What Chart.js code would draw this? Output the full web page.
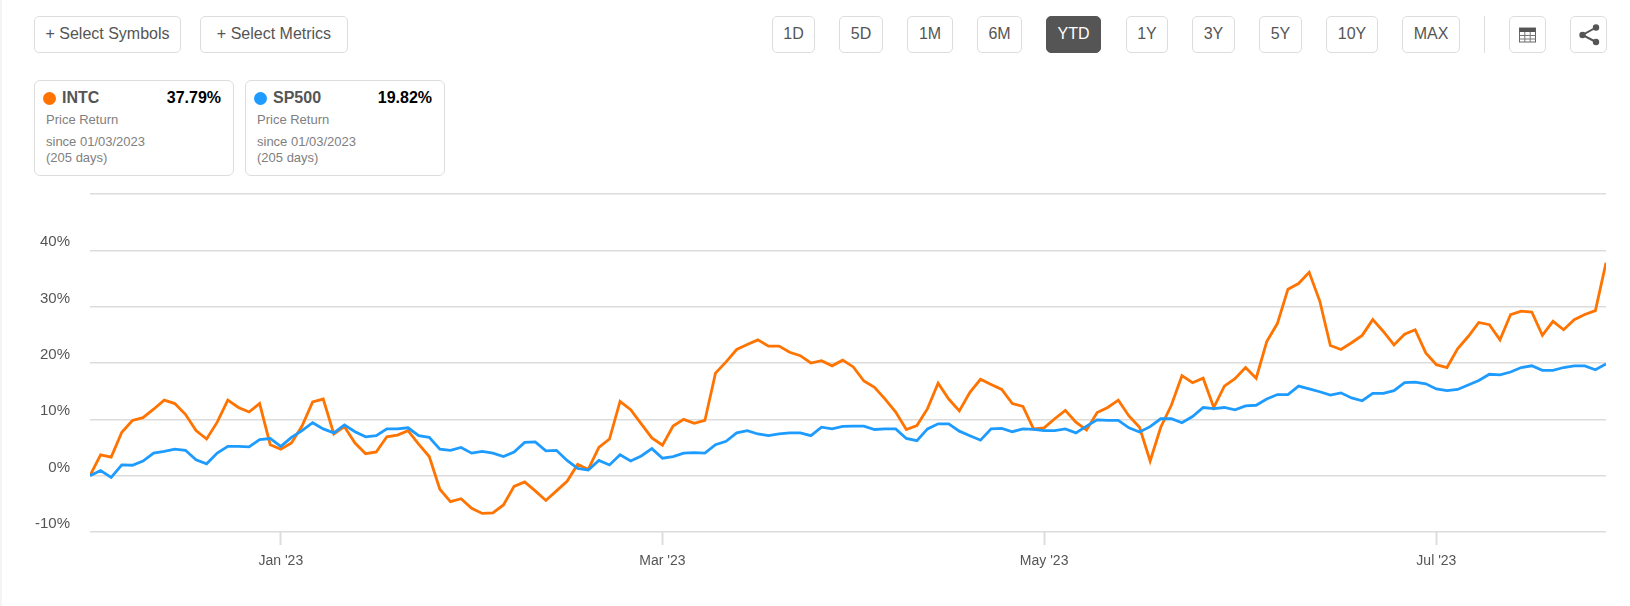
<!DOCTYPE html>
<html>
<head>
<meta charset="utf-8">
<title>INTC vs SP500</title>
<script src="https://cdn.jsdelivr.net/npm/chart.js@4/dist/chart.umd.min.js"></script>
<style>
  html, body { margin: 0; padding: 0; background: #fff; width: 1630px; height: 606px; overflow: hidden; }
  body { font-family: "Liberation Sans", Arial, sans-serif; color: #555; position: relative; }
  .edge { position: absolute; left: 0; top: 0; width: 2px; height: 606px; background: #f7f3f3; }
  .btn { position: absolute; top: 16px; height: 35px; line-height: 33px; border: 1px solid #ddd; border-radius: 5px;
         text-align: center; font-size: 16px; color: #555; background: #fff; }
  .btn.on { background: #555; border-color: #555; color: #fff; }
  .sep { position: absolute; left: 1484px; top: 16px; width: 1px; height: 37px; background: #ddd; }
  .card { position: absolute; top: 80px; width: 198px; height: 94px; border: 1px solid #ddd; border-radius: 6px; }
  .dot { position: absolute; left: 8px; top: 11px; width: 13px; height: 13px; border-radius: 50%; }
  .name { position: absolute; left: 27px; top: 8px; font-size: 16px; font-weight: bold; line-height: 18px; }
  .pct { position: absolute; right: 12px; top: 8px; font-size: 16px; font-weight: bold; line-height: 18px; color: #000; }
  .sub { position: absolute; left: 11px; font-size: 13px; line-height: 16px; color: #808080; }
  #wrap { position: absolute; left: 0; top: 165px; width: 1630px; height: 435px; }
  .btn svg { position: absolute; left: 0; top: 0; }
</style>
</head>
<body>
<div class="edge"></div>
<div class="btn" style="left:34px;width:145px">+ Select Symbols</div>
<div class="btn" style="left:200px;width:146px">+ Select Metrics</div>

<div class="btn" style="left:772px;width:41px">1D</div>
<div class="btn" style="left:839px;width:42px">5D</div>
<div class="btn" style="left:907px;width:44px">1M</div>
<div class="btn" style="left:977px;width:43px">6M</div>
<div class="btn on" style="left:1046px;width:53px">YTD</div>
<div class="btn" style="left:1126px;width:40px">1Y</div>
<div class="btn" style="left:1192px;width:41px">3Y</div>
<div class="btn" style="left:1259px;width:41px">5Y</div>
<div class="btn" style="left:1326px;width:50px">10Y</div>
<div class="btn" style="left:1402px;width:56px">MAX</div>
<div class="sep"></div>
<div class="btn" style="left:1509px;width:35px">
  <svg width="35" height="35" viewBox="0 0 35 35">
    <rect x="9.5" y="11" width="16" height="14" fill="#fff" stroke="#666" stroke-width="1"/>
    <rect x="9.5" y="11" width="16" height="4" fill="#555"/>
    <path d="M9.5 18.5H25.5M9.5 22H25.5M14.8 15V25M20.2 15V25" stroke="#777" stroke-width="1"/>
  </svg>
</div>
<div class="btn" style="left:1570px;width:35px">
  <svg width="35" height="35" viewBox="0 0 35 35">
    <path d="M25 10.5L11.5 18L25 25" fill="none" stroke="#555" stroke-width="2"/>
    <circle cx="25" cy="10.5" r="3.2" fill="#555"/><circle cx="11.5" cy="18" r="3.2" fill="#555"/><circle cx="25" cy="25" r="3.2" fill="#555"/>
  </svg>
</div>

<div class="card" style="left:34px">
  <span class="dot" style="background:#ff7300"></span>
  <span class="name">INTC</span><span class="pct">37.79%</span>
  <div class="sub" style="top:31px">Price Return</div>
  <div class="sub" style="top:53px">since 01/03/2023</div>
  <div class="sub" style="top:69px">(205 days)</div>
</div>
<div class="card" style="left:245px">
  <span class="dot" style="background:#1e9bff"></span>
  <span class="name">SP500</span><span class="pct">19.82%</span>
  <div class="sub" style="top:31px">Price Return</div>
  <div class="sub" style="top:53px">since 01/03/2023</div>
  <div class="sub" style="top:69px">(205 days)</div>
</div>

<div id="wrap"><canvas id="chart"></canvas></div>

<script>
// values, one per trading day
const intc = [
  0, 3.7, 3.3, 7.7, 9.8, 10.3, 11.8, 13.4, 12.8, 10.9, 8.0, 6.5,
  9.5, 13.4, 12.1, 11.3, 12.8, 5.5, 4.7, 5.8, 8.8, 13.1, 13.6, 7.4,
  8.7, 5.8, 3.9, 4.2, 6.9, 7.2, 8.0, 5.6, 3.4, -2.4, -4.6, -4.1,
  -5.8, -6.7, -6.6, -5.2, -1.9, -1.1, -2.7, -4.4, -2.7, -1.0, 2.0, 1.1,
  5.0, 6.5, 13.2, 11.7, 9.2, 6.7, 5.4, 8.8, 10.0, 9.3, 9.8, 18.2,
  20.2, 22.4, 23.3, 24.1, 23.0, 23.0, 21.9, 21.3, 20.0, 20.4, 19.5, 20.5,
  19.3, 16.8, 15.7, 13.6, 11.3, 8.2, 8.9, 11.9, 16.4, 13.6, 11.5, 14.8,
  17.1, 16.2, 15.3, 12.8, 12.3, 8.3, 8.5, 10.1, 11.6, 9.5, 8.1, 11.2,
  12.1, 13.4, 10.6, 8.6, 2.6, 8.6, 12.5, 17.75, 16.5, 17.3, 12.1, 15.9,
  17.2, 19.2, 17.3, 23.8, 27.0, 33.1, 34.1, 36.1, 31.0, 23.1, 22.4, 23.6,
  24.9, 27.7, 25.6, 23.2, 25.1, 25.9, 21.8, 19.7, 19.2, 22.5, 24.7, 27.2,
  26.8, 24.1, 28.6, 29.2, 29.05, 24.9, 27.4, 25.9, 27.7, 28.6, 29.3, 37.79
];
const sp500 = [
  0, 0.9, -0.3, 1.9, 1.85, 2.6, 4.0, 4.3, 4.7, 4.5, 2.8, 2.1,
  4.0, 5.2, 5.2, 5.1, 6.4, 6.6, 5.2, 6.8, 8.0, 9.4, 8.3, 7.6,
  9.0, 7.8, 6.9, 7.1, 8.3, 8.3, 8.5, 7.1, 6.8, 4.7, 4.5, 5.0,
  4.0, 4.3, 4.0, 3.4, 4.2, 5.9, 6.0, 4.4, 4.5, 2.7, 1.3, 1.0,
  2.7, 1.9, 3.7, 2.6, 3.5, 4.8, 3.1, 3.4, 4.0, 4.1, 4.0, 5.5,
  6.1, 7.6, 8.0, 7.4, 7.1, 7.4, 7.6, 7.6, 7.1, 8.6, 8.3, 8.75,
  8.8, 8.8, 8.2, 8.3, 8.3, 6.6, 6.2, 8.3, 9.2, 9.2, 7.9, 7.1,
  6.3, 8.3, 8.4, 7.8, 8.3, 8.2, 8.0, 8.0, 8.3, 7.6, 8.8, 9.9,
  9.8, 9.8, 8.5, 7.75, 8.7, 10.1, 10.1, 9.4, 10.5, 12.1, 11.9, 12.1,
  11.7, 12.4, 12.5, 13.6, 14.4, 14.4, 15.9, 15.4, 14.9, 14.3, 14.7, 13.8,
  13.3, 14.6, 14.6, 15.1, 16.5, 16.6, 16.3, 15.4, 15.1, 15.3, 16.1, 16.9,
  18.0, 17.9, 18.4, 19.2, 19.5, 18.7, 18.7, 19.2, 19.5, 19.5, 18.8, 19.82
];

// x axis ticks sit on these trading days
const tickIndices = [18, 54, 90, 127];
const tickLabels = ["Jan '23", "Mar '23", "May '23", "Jul '23"];
const yTicks = [-10, 0, 10, 20, 30, 40, 50];

const toPoints = arr => arr.map((v, i) => ({ x: i, y: v }));

new Chart(document.getElementById('chart'), {
  type: 'line',
  data: {
    datasets: [
      { label: 'SP500', data: toPoints(sp500), borderColor: '#1e9bff', borderWidth: 2.8, order: 1 },
      { label: 'INTC', data: toPoints(intc), borderColor: '#ff7300', borderWidth: 2.8, order: 2 }
    ]
  },
  options: {
    responsive: true,
    maintainAspectRatio: false,
    animation: false,
    parsing: false,
    normalized: true,
    layout: { padding: { top: 13, right: 24, left: 0, bottom: 0 } },
    elements: { point: { radius: 0 }, line: { tension: 0, borderJoinStyle: 'miter' } },
    plugins: { legend: { display: false }, tooltip: { enabled: false } },
    scales: {
      x: {
        type: 'linear',
        min: 0,
        max: intc.length - 1,
        afterBuildTicks: scale => { scale.ticks = tickIndices.map(value => ({ value })); },
        afterFit: scale => { scale.height = 68; },
        border: { display: false },
        grid: { drawOnChartArea: false, drawTicks: true, tickLength: 13, tickColor: '#ddd', tickWidth: 2 },
        ticks: {
          autoSkip: false,
          maxRotation: 0,
          padding: 8,
          color: '#555',
          font: { family: '"Liberation Sans", Arial, sans-serif', size: 14 },
          callback: value => tickLabels[tickIndices.indexOf(value)] || ''
        }
      },
      y: {
        min: -10,
        max: 50,
        afterBuildTicks: scale => { scale.ticks = yTicks.map(value => ({ value })); },
        afterFit: scale => { scale.width = 90; },
        border: { display: false },
        grid: { color: '#dcdcdc', lineWidth: 1.4, drawTicks: false },
        ticks: {
          padding: 20,
          labelOffset: -8,
          color: '#555',
          font: { family: '"Liberation Sans", Arial, sans-serif', size: 15 },
          callback: value => value === 50 ? '' : value + '%'
        }
      }
    }
  }
});
</script>
</body>
</html>
